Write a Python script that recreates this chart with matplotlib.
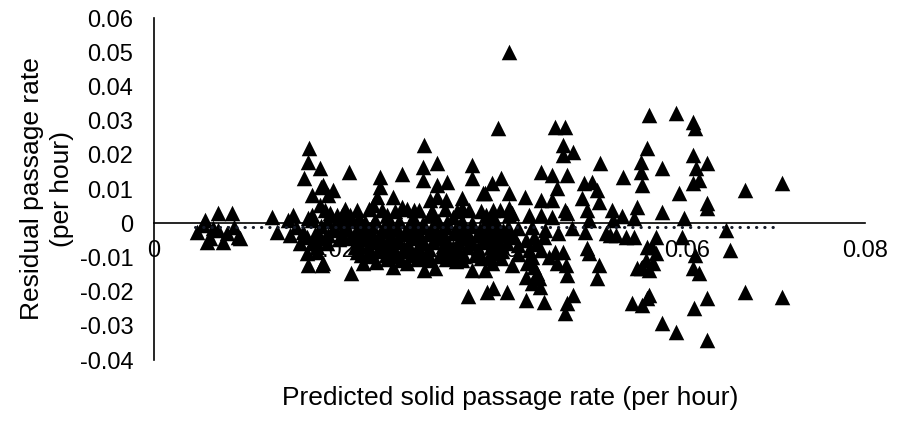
import matplotlib
matplotlib.use("Agg")
import matplotlib.pyplot as plt

plt.rcParams['font.family'] = ['Liberation Sans', 'DejaVu Sans']

# Predicted solid passage rate (per hour) and residual (per hour)
pred_left = [0.0048, 0.0055, 0.0057, 0.0063, 0.0060, 0.0072, 0.0072, 0.0082, 0.0088,
             0.0097, 0.0066, 0.0090, 0.0078, 0.0094]
resid_left = [-0.0026, -0.0006, 0.0009, -0.0044, -0.0056, 0.0029, -0.0020, -0.0029, 0.0029,
              -0.0044, -0.0015, -0.0010, -0.0055, -0.0040]

pred_lowmid = [0.0133, 0.0138, 0.0151, 0.0156, 0.0153, 0.0164, 0.0172, 0.0173, 0.0189,
               0.0178, 0.0173, 0.0187, 0.0183, 0.0172, 0.0195, 0.0178, 0.0160, 0.0168,
               0.0174, 0.0173, 0.0187, 0.0169, 0.0188, 0.0178, 0.0196, 0.0187, 0.0192]
resid_lowmid = [0.0018, -0.0026, 0.0009, 0.0023, -0.0035, -0.0058, -0.0088, -0.0123, -0.0123,
                0.0009, 0.0015, -0.0041, -0.0070, -0.0041, -0.0058, 0.0023, -0.0012, -0.0025,
                0.0219, 0.0178, 0.0161, 0.0132, 0.0105, 0.0082, 0.0082, 0.0053, 0.0038]

pred_upper = [0.0304, 0.0318, 0.0303, 0.0219, 0.0358, 0.0358, 0.0279, 0.0254, 0.0254,
              0.0318, 0.0303, 0.0330, 0.0201, 0.0190, 0.0370, 0.0269, 0.0251, 0.0318,
              0.0346, 0.0310, 0.0329, 0.0246, 0.0279, 0.0293, 0.0347,
              0.0198, 0.0206, 0.0212, 0.0220, 0.0231, 0.0262, 0.0291, 0.0310, 0.0336, 0.0374]
resid_upper = [0.0228, 0.0175, 0.0164, 0.0149, 0.0170, 0.0132, 0.0143, 0.0135, 0.0105,
               0.0111, 0.0126, 0.0120, 0.0096, 0.0111, 0.0088, 0.0076, 0.0076, 0.0076,
               0.0073, 0.0067, 0.0067, 0.0053, 0.0047, 0.0038, 0.0044,
               0.0029, 0.0023, 0.0023, 0.0023, 0.0015, 0.0023, 0.0018, 0.0023, 0.0018, 0.0023]

pred_core = [0.0195, 0.0209, 0.0221, 0.0237, 0.0249, 0.0264, 0.0276, 0.0291, 0.0303, 0.0319,
             0.0330, 0.0346, 0.0358, 0.0373, 0.0385,
             0.0201, 0.0213, 0.0229, 0.0240, 0.0256, 0.0269, 0.0284, 0.0296, 0.0312, 0.0324,
             0.0339, 0.0351, 0.0367, 0.0379, 0.0393,
             0.0192, 0.0208, 0.0220, 0.0236, 0.0248, 0.0263, 0.0275, 0.0290, 0.0302, 0.0318,
             0.0329, 0.0345, 0.0357, 0.0372, 0.0386,
             0.0226, 0.0241, 0.0253, 0.0269, 0.0281, 0.0297, 0.0309, 0.0325, 0.0336, 0.0352,
             0.0364, 0.0379, 0.0391,
             0.0233, 0.0245, 0.0261, 0.0273, 0.0289, 0.0301, 0.0321, 0.0333, 0.0349, 0.0361,
             0.0377,
             0.0190, 0.0235, 0.0269, 0.0304, 0.0316, 0.0222, 0.0358, 0.0250, 0.0285, 0.0340,
             0.0353, 0.0375]
resid_core = [0.0006, 0.0003, 0.0007, 0.0004, 0.0008, 0.0002, 0.0006, 0.0005, 0.0001, 0.0007,
              0.0004, 0.0006, 0.0002, 0.0005, 0.0003,
              -0.0021, -0.0018, -0.0023, -0.0019, -0.0022, -0.0017, -0.0024, -0.0020, -0.0018, -0.0023,
              -0.0019, -0.0021, -0.0017, -0.0022, -0.0020,
              -0.0044, -0.0047, -0.0043, -0.0046, -0.0042, -0.0048, -0.0045, -0.0043, -0.0047, -0.0044,
              -0.0046, -0.0042, -0.0048, -0.0045, -0.0043,
              -0.0071, -0.0068, -0.0073, -0.0069, -0.0072, -0.0070, -0.0074, -0.0067, -0.0071, -0.0069,
              -0.0073, -0.0070, -0.0068,
              -0.0094, -0.0097, -0.0093, -0.0096, -0.0092, -0.0098, -0.0095, -0.0093, -0.0097, -0.0094,
              -0.0096,
              -0.0117, -0.0117, -0.0129, -0.0137, -0.0132, -0.0146, -0.0137, -0.0112, -0.0115, -0.0110,
              -0.0213, -0.0202]

pred_dense = [0.0215, 0.0228, 0.0242, 0.0257, 0.0271, 0.0285, 0.0298, 0.0313, 0.0327, 0.0341,
              0.0354, 0.0368, 0.0382,
              0.0188, 0.0202, 0.0216, 0.0231, 0.0245, 0.0259, 0.0273, 0.0287, 0.0301, 0.0315,
              0.0329, 0.0343, 0.0357, 0.0371, 0.0385, 0.0398,
              0.0181, 0.0196, 0.0211, 0.0225, 0.0239, 0.0253, 0.0267, 0.0281, 0.0295, 0.0309,
              0.0323, 0.0337, 0.0351, 0.0365, 0.0379, 0.0393,
              0.0178, 0.0230, 0.0244, 0.0258, 0.0272, 0.0286, 0.0300, 0.0314, 0.0328, 0.0342,
              0.0356, 0.0370, 0.0384, 0.0397,
              0.0183, 0.0228, 0.0241, 0.0255, 0.0266, 0.0280, 0.0294, 0.0307, 0.0327, 0.0343,
              0.0366, 0.0383,
              0.0262, 0.0278, 0.0296, 0.0311, 0.0328, 0.0347, 0.0368]
resid_dense = [0.0041, 0.0038, 0.0043, 0.0040, 0.0036, 0.0042, 0.0039, 0.0035, 0.0041, 0.0037,
               0.0040, 0.0036, 0.0039,
               -0.0008, -0.0011, -0.0009, -0.0012, -0.0008, -0.0010, -0.0013, -0.0009, -0.0011, -0.0007,
               -0.0012, -0.0010, -0.0008, -0.0011, -0.0009, -0.0012,
               -0.0031, -0.0034, -0.0032, -0.0035, -0.0030, -0.0033, -0.0036, -0.0031, -0.0034, -0.0032,
               -0.0035, -0.0030, -0.0033, -0.0034, -0.0031, -0.0035,
               -0.0057, -0.0058, -0.0055, -0.0059, -0.0056, -0.0060, -0.0057, -0.0054, -0.0058, -0.0056,
               -0.0059, -0.0055, -0.0058, -0.0057,
               -0.0084, -0.0083, -0.0086, -0.0082, -0.0085, -0.0081, -0.0087, -0.0083, -0.0085, -0.0082,
               -0.0084, -0.0086,
               -0.0106, -0.0109, -0.0104, -0.0107, -0.0105, -0.0108, -0.0103]

pred_mid = [0.0381, 0.0400, 0.0403, 0.0422, 0.0436, 0.0448, 0.0465, 0.0490, 0.0516, 0.0527,
            0.0540, 0.0374, 0.0384, 0.0398, 0.0410, 0.0425, 0.0440, 0.0455, 0.0470, 0.0485,
            0.0509, 0.0520, 0.0531, 0.0540, 0.0555,
            0.0381, 0.0378, 0.0380, 0.0391, 0.0403, 0.0419, 0.0428, 0.0439, 0.0422, 0.0436,
            0.0420, 0.0431, 0.0419, 0.0425, 0.0434, 0.0419, 0.0439, 0.0381, 0.0397, 0.0451,
            0.0460, 0.0453, 0.0464, 0.0465, 0.0471, 0.0465, 0.0463, 0.0487, 0.0490, 0.0501,
            0.0498, 0.0513, 0.0543, 0.0549, 0.0538, 0.0555,
            0.0410, 0.0430, 0.0445, 0.0425, 0.0410, 0.0428, 0.0433, 0.0405, 0.0392, 0.0372]
resid_mid = [0.0009, 0.0023, 0.0029, 0.0023, 0.0023, 0.0018, 0.0030, 0.0009, 0.0009, 0.0020,
             0.0015, -0.0020, -0.0029, -0.0026, -0.0015, -0.0010, -0.0020, -0.0030, -0.0015, -0.0025,
             -0.0029, -0.0035, -0.0041, -0.0041, -0.0070,
             -0.0058, -0.0099, -0.0117, -0.0102, -0.0123, -0.0050, -0.0041, -0.0041, -0.0079, -0.0079,
             -0.0117, -0.0146, -0.0158, -0.0175, -0.0187, -0.0225, -0.0231, -0.0190, -0.0202, -0.0085,
             -0.0085, -0.0117, -0.0123, -0.0152, -0.0211, -0.0234, -0.0263, -0.0073, -0.0088, -0.0123,
             -0.0161, -0.0035, -0.0132, -0.0129, -0.0234, -0.0219,
             -0.0065, -0.0060, -0.0100, -0.0100, -0.0090, -0.0128, -0.0160, -0.0040, -0.0080, -0.0138]

pred_high = [0.0399, 0.0387, 0.0451, 0.0463, 0.0557, 0.0460, 0.0471, 0.0460, 0.0502, 0.0555,
             0.0548, 0.0548, 0.0549, 0.0528, 0.0436, 0.0448, 0.0465, 0.0453, 0.0484, 0.0493,
             0.0498, 0.0482, 0.0501, 0.0487, 0.0448, 0.0462, 0.0436, 0.0417, 0.0400, 0.0399,
             0.0389, 0.0391, 0.0380, 0.0372, 0.0515, 0.0543]
resid_high = [0.0500, 0.0278, 0.0281, 0.0281, 0.0316, 0.0228, 0.0208, 0.0199, 0.0175, 0.0219,
              0.0178, 0.0149, 0.0111, 0.0135, 0.0149, 0.0140, 0.0140, 0.0102, 0.0117, 0.0120,
              0.0096, 0.0073, 0.0061, 0.0038, 0.0067, 0.0038, 0.0067, 0.0076, 0.0088, 0.0044,
              0.0038, 0.0132, 0.0117, 0.0088, 0.0038, 0.0047]

pred_right = [0.0587, 0.0607, 0.0609, 0.0606, 0.0622, 0.0610, 0.0572, 0.0613, 0.0606, 0.0665,
              0.0707, 0.0591, 0.0622, 0.0622, 0.0572, 0.0596,
              0.0644, 0.0648, 0.0565, 0.0560, 0.0565, 0.0554, 0.0561, 0.0548, 0.0557, 0.0594,
              0.0609, 0.0606, 0.0613, 0.0665, 0.0707, 0.0622, 0.0557, 0.0549, 0.0608, 0.0572,
              0.0587, 0.0622]
resid_right = [0.0322, 0.0295, 0.0278, 0.0199, 0.0175, 0.0161, 0.0161, 0.0126, 0.0117, 0.0096,
               0.0117, 0.0088, 0.0058, 0.0044, 0.0032, 0.0015,
               -0.0020, -0.0079, -0.0041, -0.0070, -0.0088, -0.0108, -0.0117, -0.0132, -0.0137, -0.0041,
               -0.0094, -0.0132, -0.0146, -0.0202, -0.0216, -0.0219, -0.0211, -0.0240, -0.0249, -0.0292,
               -0.0319, -0.0342]

pred = pred_left + pred_lowmid + pred_upper + pred_core + pred_dense + pred_mid + pred_high + pred_right
resid = resid_left + resid_lowmid + resid_upper + resid_core + resid_dense + resid_mid + resid_high + resid_right

# Linear trend of residuals
trend_x = [0.0046, 0.0704]
trend_y = [-0.0012, -0.0012]

x_ticks = [0, 0.02, 0.04, 0.06, 0.08]
x_tick_labels = ['0', '0.02', '0.04', '0.06', '0.08']
y_ticks = [-0.04, -0.03, -0.02, -0.01, 0, 0.01, 0.02, 0.03, 0.04, 0.05, 0.06]
y_tick_labels = ['-0.04', '-0.03', '-0.02', '-0.01', '0', '0.01', '0.02', '0.03', '0.04', '0.05', '0.06']

fig = plt.figure(figsize=(8.97, 4.23), dpi=100)
ax = fig.add_axes([0.1717, 0.1489, 0.7926, 0.8085])

ax.scatter(pred, resid, marker='^', s=125, color='black', linewidths=0, zorder=3)
ax.plot(trend_x, trend_y, color='#151a28', lw=2.2, linestyle=(0, (0.1, 2.6)),
        dash_capstyle='round', zorder=4)

ax.set_xlim(0, 0.08)
ax.set_ylim(-0.04, 0.06)
ax.set_xticks(x_ticks)
ax.set_xticklabels(x_tick_labels)
ax.set_yticks(y_ticks)
ax.set_yticklabels(y_tick_labels)

for side in ('top', 'right'):
    ax.spines[side].set_visible(False)
ax.spines['bottom'].set_position(('data', 0))
ax.spines['bottom'].set_zorder(2)
for side in ('left', 'bottom'):
    ax.spines[side].set_color('black')
    ax.spines[side].set_linewidth(1.2)

ax.tick_params(axis='both', length=0, labelsize=17, colors='black')
ax.tick_params(axis='x', pad=12)
ax.tick_params(axis='y', pad=15)

ax.set_ylabel('Residual passage rate\n(per hour)', fontsize=19, labelpad=4,
              linespacing=1.3)
fig.text(0.569, 0.058, 'Predicted solid passage rate (per hour)', fontsize=19,
         ha='center', va='center')

fig.savefig('out.png', dpi=100)
